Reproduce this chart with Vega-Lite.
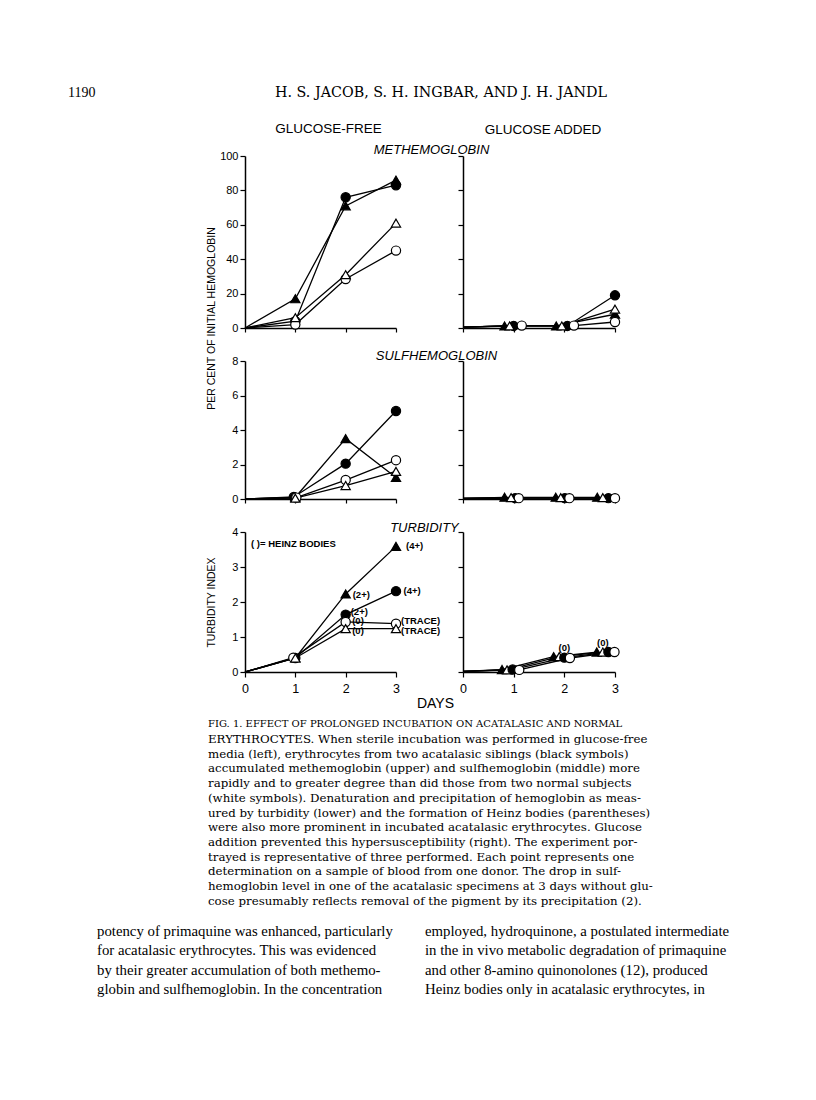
{
  "$schema": "https://vega.github.io/schema/vega-lite/v6.json",
  "padding": {"left": 68, "top": 65, "right": 0, "bottom": 0},
  "background": "white",
  "config": {
    "view": {"stroke": null},
    "axis": {"grid": false, "domainColor": "black", "domainWidth": 1.5, "tickColor": "black", "tickWidth": 1.2, "tickSize": 5, "labelFont": "Liberation Sans", "labelFontSize": 11, "labelColor": "black", "labelPadding": 2, "labelFlush": false, "labelOverlap": false, "titleFont": "Liberation Sans", "titleFontWeight": "normal", "titleColor": "black"},
    "title": {"font": "Liberation Sans", "fontWeight": "normal", "color": "black", "fontSize": 13.5},
    "text": {"color": "black"}
  },
  "datasets": {
    "series": [
      {"measure": "met", "medium": "free", "subject": "acatalasic 1", "day": 0, "value": 0},
      {"measure": "met", "medium": "free", "subject": "acatalasic 1", "day": 1, "value": 4},
      {"measure": "met", "medium": "free", "subject": "acatalasic 1", "day": 2, "value": 76},
      {"measure": "met", "medium": "free", "subject": "acatalasic 1", "day": 3, "value": 83},
      {"measure": "met", "medium": "free", "subject": "acatalasic 2", "day": 0, "value": 0},
      {"measure": "met", "medium": "free", "subject": "acatalasic 2", "day": 1, "value": 17},
      {"measure": "met", "medium": "free", "subject": "acatalasic 2", "day": 2, "value": 71},
      {"measure": "met", "medium": "free", "subject": "acatalasic 2", "day": 3, "value": 86},
      {"measure": "met", "medium": "free", "subject": "normal 1", "day": 0, "value": 0},
      {"measure": "met", "medium": "free", "subject": "normal 1", "day": 1, "value": 2},
      {"measure": "met", "medium": "free", "subject": "normal 1", "day": 2, "value": 28.5},
      {"measure": "met", "medium": "free", "subject": "normal 1", "day": 3, "value": 45},
      {"measure": "met", "medium": "free", "subject": "normal 2", "day": 0, "value": 0},
      {"measure": "met", "medium": "free", "subject": "normal 2", "day": 1, "value": 6},
      {"measure": "met", "medium": "free", "subject": "normal 2", "day": 2, "value": 31},
      {"measure": "met", "medium": "free", "subject": "normal 2", "day": 3, "value": 61},

      {"measure": "met", "medium": "added", "subject": "acatalasic 1", "day": 0, "value": 0.5},
      {"measure": "met", "medium": "added", "subject": "acatalasic 1", "day": 1.0, "value": 1.2},
      {"measure": "met", "medium": "added", "subject": "acatalasic 1", "day": 2.06, "value": 1.2},
      {"measure": "met", "medium": "added", "subject": "acatalasic 1", "day": 3, "value": 19},
      {"measure": "met", "medium": "added", "subject": "acatalasic 2", "day": 0, "value": 0.5},
      {"measure": "met", "medium": "added", "subject": "acatalasic 2", "day": 0.82, "value": 1.2},
      {"measure": "met", "medium": "added", "subject": "acatalasic 2", "day": 1.84, "value": 1.2},
      {"measure": "met", "medium": "added", "subject": "acatalasic 2", "day": 3, "value": 8},
      {"measure": "met", "medium": "added", "subject": "normal 1", "day": 0, "value": 0.5},
      {"measure": "met", "medium": "added", "subject": "normal 1", "day": 1.16, "value": 1.4},
      {"measure": "met", "medium": "added", "subject": "normal 1", "day": 2.19, "value": 1.4},
      {"measure": "met", "medium": "added", "subject": "normal 1", "day": 3, "value": 3.5},
      {"measure": "met", "medium": "added", "subject": "normal 2", "day": 0, "value": 0.5},
      {"measure": "met", "medium": "added", "subject": "normal 2", "day": 0.92, "value": 1.2},
      {"measure": "met", "medium": "added", "subject": "normal 2", "day": 1.95, "value": 1.2},
      {"measure": "met", "medium": "added", "subject": "normal 2", "day": 3, "value": 11},

      {"measure": "sulf", "medium": "free", "subject": "acatalasic 1", "day": 0, "value": 0},
      {"measure": "sulf", "medium": "free", "subject": "acatalasic 1", "day": 0.97, "value": 0.12},
      {"measure": "sulf", "medium": "free", "subject": "acatalasic 1", "day": 2, "value": 2.05},
      {"measure": "sulf", "medium": "free", "subject": "acatalasic 1", "day": 3, "value": 5.1},
      {"measure": "sulf", "medium": "free", "subject": "acatalasic 2", "day": 0, "value": 0},
      {"measure": "sulf", "medium": "free", "subject": "acatalasic 2", "day": 1, "value": 0.1},
      {"measure": "sulf", "medium": "free", "subject": "acatalasic 2", "day": 2, "value": 3.5},
      {"measure": "sulf", "medium": "free", "subject": "acatalasic 2", "day": 3, "value": 1.25},
      {"measure": "sulf", "medium": "free", "subject": "normal 1", "day": 0, "value": 0},
      {"measure": "sulf", "medium": "free", "subject": "normal 1", "day": 1.02, "value": 0.08},
      {"measure": "sulf", "medium": "free", "subject": "normal 1", "day": 2, "value": 1.1},
      {"measure": "sulf", "medium": "free", "subject": "normal 1", "day": 3, "value": 2.25},
      {"measure": "sulf", "medium": "free", "subject": "normal 2", "day": 0, "value": 0},
      {"measure": "sulf", "medium": "free", "subject": "normal 2", "day": 1, "value": 0.05},
      {"measure": "sulf", "medium": "free", "subject": "normal 2", "day": 2, "value": 0.78},
      {"measure": "sulf", "medium": "free", "subject": "normal 2", "day": 3, "value": 1.6},

      {"measure": "sulf", "medium": "added", "subject": "acatalasic 1", "day": 0, "value": 0.03},
      {"measure": "sulf", "medium": "added", "subject": "acatalasic 1", "day": 1.03, "value": 0.05},
      {"measure": "sulf", "medium": "added", "subject": "acatalasic 1", "day": 2.01, "value": 0.05},
      {"measure": "sulf", "medium": "added", "subject": "acatalasic 1", "day": 2.87, "value": 0.05},
      {"measure": "sulf", "medium": "added", "subject": "acatalasic 2", "day": 0, "value": 0.03},
      {"measure": "sulf", "medium": "added", "subject": "acatalasic 2", "day": 0.82, "value": 0.1},
      {"measure": "sulf", "medium": "added", "subject": "acatalasic 2", "day": 1.83, "value": 0.1},
      {"measure": "sulf", "medium": "added", "subject": "acatalasic 2", "day": 2.65, "value": 0.1},
      {"measure": "sulf", "medium": "added", "subject": "normal 1", "day": 0, "value": 0.03},
      {"measure": "sulf", "medium": "added", "subject": "normal 1", "day": 1.1, "value": 0.05},
      {"measure": "sulf", "medium": "added", "subject": "normal 1", "day": 2.1, "value": 0.05},
      {"measure": "sulf", "medium": "added", "subject": "normal 1", "day": 3.0, "value": 0.05},
      {"measure": "sulf", "medium": "added", "subject": "normal 2", "day": 0, "value": 0.03},
      {"measure": "sulf", "medium": "added", "subject": "normal 2", "day": 0.95, "value": 0.08},
      {"measure": "sulf", "medium": "added", "subject": "normal 2", "day": 1.93, "value": 0.08},
      {"measure": "sulf", "medium": "added", "subject": "normal 2", "day": 2.76, "value": 0.08},

      {"measure": "turb", "medium": "free", "subject": "acatalasic 1", "day": 0, "value": 0},
      {"measure": "turb", "medium": "free", "subject": "acatalasic 1", "day": 1, "value": 0.4},
      {"measure": "turb", "medium": "free", "subject": "acatalasic 1", "day": 2, "value": 1.64},
      {"measure": "turb", "medium": "free", "subject": "acatalasic 1", "day": 3, "value": 2.31},
      {"measure": "turb", "medium": "free", "subject": "acatalasic 2", "day": 0, "value": 0},
      {"measure": "turb", "medium": "free", "subject": "acatalasic 2", "day": 1, "value": 0.4},
      {"measure": "turb", "medium": "free", "subject": "acatalasic 2", "day": 2, "value": 2.23},
      {"measure": "turb", "medium": "free", "subject": "acatalasic 2", "day": 3, "value": 3.59},
      {"measure": "turb", "medium": "free", "subject": "normal 1", "day": 0, "value": 0},
      {"measure": "turb", "medium": "free", "subject": "normal 1", "day": 0.96, "value": 0.41},
      {"measure": "turb", "medium": "free", "subject": "normal 1", "day": 2, "value": 1.43},
      {"measure": "turb", "medium": "free", "subject": "normal 1", "day": 3, "value": 1.38},
      {"measure": "turb", "medium": "free", "subject": "normal 2", "day": 0, "value": 0},
      {"measure": "turb", "medium": "free", "subject": "normal 2", "day": 1, "value": 0.4},
      {"measure": "turb", "medium": "free", "subject": "normal 2", "day": 2, "value": 1.24},
      {"measure": "turb", "medium": "free", "subject": "normal 2", "day": 3, "value": 1.24},

      {"measure": "turb", "medium": "added", "subject": "acatalasic 2", "day": 0, "value": 0.02},
      {"measure": "turb", "medium": "added", "subject": "acatalasic 2", "day": 0.77, "value": 0.07},
      {"measure": "turb", "medium": "added", "subject": "acatalasic 2", "day": 1.79, "value": 0.44},
      {"measure": "turb", "medium": "added", "subject": "acatalasic 2", "day": 2.64, "value": 0.57},
      {"measure": "turb", "medium": "added", "subject": "normal 2", "day": 0, "value": 0.02},
      {"measure": "turb", "medium": "added", "subject": "normal 2", "day": 0.87, "value": 0.06},
      {"measure": "turb", "medium": "added", "subject": "normal 2", "day": 1.9, "value": 0.44},
      {"measure": "turb", "medium": "added", "subject": "normal 2", "day": 2.76, "value": 0.57},
      {"measure": "turb", "medium": "added", "subject": "acatalasic 1", "day": 0, "value": 0.02},
      {"measure": "turb", "medium": "added", "subject": "acatalasic 1", "day": 0.98, "value": 0.07},
      {"measure": "turb", "medium": "added", "subject": "acatalasic 1", "day": 2.0, "value": 0.41},
      {"measure": "turb", "medium": "added", "subject": "acatalasic 1", "day": 2.87, "value": 0.57},
      {"measure": "turb", "medium": "added", "subject": "normal 1", "day": 0, "value": 0.02},
      {"measure": "turb", "medium": "added", "subject": "normal 1", "day": 1.11, "value": 0.06},
      {"measure": "turb", "medium": "added", "subject": "normal 1", "day": 2.11, "value": 0.4},
      {"measure": "turb", "medium": "added", "subject": "normal 1", "day": 2.99, "value": 0.57}
    ],
    "notes": [
      {"medium": "free", "day": 0.12, "value": 3.66, "label": "(  )= HEINZ BODIES"},
      {"medium": "free", "day": 3.2, "value": 3.6, "label": "(4+)"},
      {"medium": "free", "day": 2.14, "value": 2.2, "label": "(2+)"},
      {"medium": "free", "day": 3.15, "value": 2.31, "label": "(4+)"},
      {"medium": "free", "day": 2.1, "value": 1.72, "label": "(2+)"},
      {"medium": "free", "day": 2.13, "value": 1.45, "label": "(0)"},
      {"medium": "free", "day": 3.1, "value": 1.45, "label": "(TRACE)"},
      {"medium": "free", "day": 2.13, "value": 1.18, "label": "(0)"},
      {"medium": "free", "day": 3.1, "value": 1.18, "label": "(TRACE)"},
      {"medium": "added", "day": 2.0, "value": 0.69, "label": "(0)"},
      {"medium": "added", "day": 2.76, "value": 0.82, "label": "(0)"}
    ],
    "header": [
      {"part": "page", "text": "1190"},
      {"part": "head", "text": "H. S. JACOB, S. H. INGBAR, AND J. H. JANDL"}
    ],
    "caption": [
      {"line": 1, "text": "FIG. 1. EFFECT OF PROLONGED INCUBATION ON ACATALASIC AND NORMAL"},
      {"line": 2, "text": "ERYTHROCYTES. When sterile incubation was performed in glucose-free"},
      {"line": 3, "text": "media (left), erythrocytes from two acatalasic siblings (black symbols)"},
      {"line": 4, "text": "accumulated methemoglobin (upper) and sulfhemoglobin (middle) more"},
      {"line": 5, "text": "rapidly and to greater degree than did those from two normal subjects"},
      {"line": 6, "text": "(white symbols).  Denaturation and precipitation of hemoglobin as meas-"},
      {"line": 7, "text": "ured by turbidity (lower) and the formation of Heinz bodies (parentheses)"},
      {"line": 8, "text": "were also more prominent in incubated acatalasic erythrocytes.  Glucose"},
      {"line": 9, "text": "addition prevented this hypersusceptibility (right).  The experiment por-"},
      {"line": 10, "text": "trayed is representative of three performed.  Each point represents one"},
      {"line": 11, "text": "determination on a sample of blood from one donor.  The drop in sulf-"},
      {"line": 12, "text": "hemoglobin level in one of the acatalasic specimens at 3 days without glu-"},
      {"line": 13, "text": "cose presumably reflects removal of the pigment by its precipitation (2)."}
    ],
    "body": [
      {"col": "left", "line": 1, "text": "potency of primaquine was enhanced, particularly"},
      {"col": "left", "line": 2, "text": "for acatalasic erythrocytes.  This was evidenced"},
      {"col": "left", "line": 3, "text": "by their greater accumulation of both methemo-"},
      {"col": "left", "line": 4, "text": "globin and sulfhemoglobin.  In the concentration"},
      {"col": "right", "line": 1, "text": "employed, hydroquinone, a postulated intermediate"},
      {"col": "right", "line": 2, "text": "in the in vivo metabolic degradation of primaquine"},
      {"col": "right", "line": 3, "text": "and other 8-amino quinonolones (12), produced"},
      {"col": "right", "line": 4, "text": "Heinz bodies only in acatalasic erythrocytes, in"}
    ]
  },
  "vconcat": [
    {
      "width": 731, "height": 56,
      "data": {"name": "header"},
      "encoding": {
        "x": {"field": "part", "type": "nominal", "sort": ["page", "head"], "scale": {"type": "point", "range": [0, 207], "padding": 0}, "axis": null},
        "text": {"field": "text"}
      },
      "layer": [
        {"transform": [{"filter": "datum.part == 'page'"}], "mark": {"type": "text", "align": "left", "baseline": "middle", "font": "Liberation Serif", "fontSize": 14}},
        {"transform": [{"filter": "datum.part == 'head'"}], "mark": {"type": "text", "align": "left", "baseline": "middle", "font": "DejaVu Serif", "fontSize": 14.3}}
      ]
    },
    {
      "columns": 2,
      "bounds": "flush",
      "align": "each",
      "spacing": {"row": 33, "column": 67},
      "resolve": {"scale": {"x": "independent", "y": "independent"}},
      "concat": [
        {
          "width": 151, "height": 172,
          "title": {"text": "GLUCOSE-FREE", "frame": "group", "anchor": "middle", "dx": 8, "offset": 8, "baseline": "middle"},
          "data": {"name": "series"},
          "transform": [{"filter": "datum.measure == 'met' && datum.medium == 'free'"}],
          "encoding": {
            "x": {"field": "day", "type": "quantitative", "scale": {"domain": [0, 3], "nice": false}, "axis": {"values": [0, 1, 2, 3], "labels": false, "title": null, "tickSize": 4}},
            "y": {"field": "value", "type": "quantitative", "scale": {"domain": [0, 100], "nice": false}, "axis": {"values": [0, 20, 40, 60, 80, 100], "title": "PER CENT OF INITIAL HEMOGLOBIN", "titleFontSize": 10.5, "titleX": -33, "titleY": 162, "titleAlign": "center", "titleBaseline": "middle"}}
          },
          "layer": [
            {"mark": {"type": "line", "color": "black", "strokeWidth": 1.3}, "encoding": {"detail": {"field": "subject"}}},
            {"transform": [{"filter": "datum.day > 0"}], "mark": {"type": "point", "filled": true, "stroke": "black", "strokeWidth": 1.2, "opacity": 1, "size": 85},
             "encoding": {
               "shape": {"field": "subject", "scale": {"domain": ["acatalasic 1", "acatalasic 2", "normal 1", "normal 2"], "range": ["circle", "triangle-up", "circle", "triangle-up"]}, "legend": null},
               "fill": {"field": "subject", "scale": {"domain": ["acatalasic 1", "acatalasic 2", "normal 1", "normal 2"], "range": ["black", "black", "white", "white"]}, "legend": null}
             }}
          ]
        },
        {
          "width": 152, "height": 172,
          "title": {"text": "GLUCOSE ADDED", "frame": "group", "anchor": "middle", "dx": 4, "offset": 0, "baseline": "middle"},
          "data": {"name": "series"},
          "transform": [{"filter": "datum.measure == 'met' && datum.medium == 'added'"}],
          "encoding": {
            "x": {"field": "day", "type": "quantitative", "scale": {"domain": [0, 3], "nice": false}, "axis": {"values": [0, 1, 2, 3], "labels": false, "title": null, "tickSize": 4}},
            "y": {"field": "value", "type": "quantitative", "scale": {"domain": [0, 100], "nice": false}, "axis": {"values": [0, 20, 40, 60, 80, 100], "labels": false, "title": "METHEMOGLOBIN", "titleAngle": 0, "titleX": -32, "titleY": -7, "titleAlign": "center", "titleBaseline": "middle", "titleFontStyle": "italic", "titleFontSize": 13}}
          },
          "layer": [
            {"mark": {"type": "line", "color": "black", "strokeWidth": 1.3}, "encoding": {"detail": {"field": "subject"}}},
            {"transform": [{"filter": "datum.day > 0"}], "mark": {"type": "point", "filled": true, "stroke": "black", "strokeWidth": 1.2, "opacity": 1, "size": 85},
             "encoding": {
               "shape": {"field": "subject", "scale": {"domain": ["acatalasic 1", "acatalasic 2", "normal 1", "normal 2"], "range": ["circle", "triangle-up", "circle", "triangle-up"]}, "legend": null},
               "fill": {"field": "subject", "scale": {"domain": ["acatalasic 1", "acatalasic 2", "normal 1", "normal 2"], "range": ["black", "black", "white", "white"]}, "legend": null}
             }}
          ]
        },
        {
          "width": 151, "height": 138,
          "data": {"name": "series"},
          "transform": [{"filter": "datum.measure == 'sulf' && datum.medium == 'free'"}],
          "encoding": {
            "x": {"field": "day", "type": "quantitative", "scale": {"domain": [0, 3], "nice": false}, "axis": {"values": [0, 1, 2, 3], "labels": false, "title": null, "tickSize": 4}},
            "y": {"field": "value", "type": "quantitative", "scale": {"domain": [0, 8], "nice": false}, "axis": {"values": [0, 2, 4, 6, 8], "title": null}}
          },
          "layer": [
            {"mark": {"type": "line", "color": "black", "strokeWidth": 1.3}, "encoding": {"detail": {"field": "subject"}}},
            {"transform": [{"filter": "datum.day > 0"}], "mark": {"type": "point", "filled": true, "stroke": "black", "strokeWidth": 1.2, "opacity": 1, "size": 85},
             "encoding": {
               "shape": {"field": "subject", "scale": {"domain": ["acatalasic 1", "acatalasic 2", "normal 1", "normal 2"], "range": ["circle", "triangle-up", "circle", "triangle-up"]}, "legend": null},
               "fill": {"field": "subject", "scale": {"domain": ["acatalasic 1", "acatalasic 2", "normal 1", "normal 2"], "range": ["black", "black", "white", "white"]}, "legend": null}
             }}
          ]
        },
        {
          "width": 152, "height": 138,
          "data": {"name": "series"},
          "transform": [{"filter": "datum.measure == 'sulf' && datum.medium == 'added'"}],
          "encoding": {
            "x": {"field": "day", "type": "quantitative", "scale": {"domain": [0, 3], "nice": false}, "axis": {"values": [0, 1, 2, 3], "labels": false, "title": null, "tickSize": 4}},
            "y": {"field": "value", "type": "quantitative", "scale": {"domain": [0, 8], "nice": false}, "axis": {"values": [0, 2, 4, 6, 8], "labels": false, "title": "SULFHEMOGLOBIN", "titleAngle": 0, "titleX": -27, "titleY": -6, "titleAlign": "center", "titleBaseline": "middle", "titleFontStyle": "italic", "titleFontSize": 13}}
          },
          "layer": [
            {"mark": {"type": "line", "color": "black", "strokeWidth": 1.3}, "encoding": {"detail": {"field": "subject"}}},
            {"transform": [{"filter": "datum.day > 0"}], "mark": {"type": "point", "filled": true, "stroke": "black", "strokeWidth": 1.2, "opacity": 1, "size": 85},
             "encoding": {
               "shape": {"field": "subject", "scale": {"domain": ["acatalasic 1", "acatalasic 2", "normal 1", "normal 2"], "range": ["circle", "triangle-up", "circle", "triangle-up"]}, "legend": null},
               "fill": {"field": "subject", "scale": {"domain": ["acatalasic 1", "acatalasic 2", "normal 1", "normal 2"], "range": ["black", "black", "white", "white"]}, "legend": null}
             }}
          ]
        },
        {
          "width": 151, "height": 140,
          "encoding": {
            "x": {"field": "day", "type": "quantitative", "scale": {"domain": [0, 3], "nice": false}, "axis": {"values": [0, 1, 2, 3], "labelFontSize": 12.5, "labelPadding": 5, "title": "DAYS", "titleFontSize": 14, "titleX": 190, "titleY": 31, "titleAlign": "center", "titleBaseline": "middle"}},
            "y": {"field": "value", "type": "quantitative", "scale": {"domain": [0, 4], "nice": false}, "axis": {"values": [0, 1, 2, 3, 4], "title": "TURBIDITY INDEX", "titleFontSize": 10.5, "titleX": -33, "titleY": 70, "titleAlign": "center", "titleBaseline": "middle"}}
          },
          "layer": [
            {"data": {"name": "series"}, "transform": [{"filter": "datum.measure == 'turb' && datum.medium == 'free'"}], "mark": {"type": "line", "color": "black", "strokeWidth": 1.3}, "encoding": {"detail": {"field": "subject"}}},
            {"data": {"name": "series"}, "transform": [{"filter": "datum.measure == 'turb' && datum.medium == 'free' && datum.day > 0"}], "mark": {"type": "point", "filled": true, "stroke": "black", "strokeWidth": 1.2, "opacity": 1, "size": 85},
             "encoding": {
               "shape": {"field": "subject", "scale": {"domain": ["acatalasic 1", "acatalasic 2", "normal 1", "normal 2"], "range": ["circle", "triangle-up", "circle", "triangle-up"]}, "legend": null},
               "fill": {"field": "subject", "scale": {"domain": ["acatalasic 1", "acatalasic 2", "normal 1", "normal 2"], "range": ["black", "black", "white", "white"]}, "legend": null}
             }},
            {"data": {"name": "notes"}, "transform": [{"filter": "datum.medium == 'free'"}], "mark": {"type": "text", "align": "left", "baseline": "middle", "font": "Liberation Sans", "fontSize": 9.5, "fontWeight": "bold"}, "encoding": {"text": {"field": "label"}}}
          ]
        },
        {
          "width": 152, "height": 140,
          "encoding": {
            "x": {"field": "day", "type": "quantitative", "scale": {"domain": [0, 3], "nice": false}, "axis": {"values": [0, 1, 2, 3], "labelFontSize": 12.5, "labelPadding": 5, "title": null}},
            "y": {"field": "value", "type": "quantitative", "scale": {"domain": [0, 4], "nice": false}, "axis": {"values": [0, 1, 2, 3, 4], "labels": false, "title": "TURBIDITY", "titleAngle": 0, "titleX": -39, "titleY": -5, "titleAlign": "center", "titleBaseline": "middle", "titleFontStyle": "italic", "titleFontSize": 13}}
          },
          "layer": [
            {"data": {"name": "series"}, "transform": [{"filter": "datum.measure == 'turb' && datum.medium == 'added'"}], "mark": {"type": "line", "color": "black", "strokeWidth": 1.3}, "encoding": {"detail": {"field": "subject"}}},
            {"data": {"name": "series"}, "transform": [{"filter": "datum.measure == 'turb' && datum.medium == 'added' && datum.day > 0"}], "mark": {"type": "point", "filled": true, "stroke": "black", "strokeWidth": 1.2, "opacity": 1, "size": 85},
             "encoding": {
               "shape": {"field": "subject", "scale": {"domain": ["acatalasic 1", "acatalasic 2", "normal 1", "normal 2"], "range": ["circle", "triangle-up", "circle", "triangle-up"]}, "legend": null},
               "fill": {"field": "subject", "scale": {"domain": ["acatalasic 1", "acatalasic 2", "normal 1", "normal 2"], "range": ["black", "black", "white", "white"]}, "legend": null}
             }},
            {"data": {"name": "notes"}, "transform": [{"filter": "datum.medium == 'added'"}], "mark": {"type": "text", "align": "center", "baseline": "middle", "font": "Liberation Sans", "fontSize": 9.5, "fontWeight": "bold"}, "encoding": {"text": {"field": "label"}}}
          ]
        }
      ]
    },
    {
      "width": 451, "height": 205,
      "data": {"name": "caption"},
      "encoding": {
        "x": {"datum": 0, "type": "quantitative", "scale": {"domain": [0, 1]}, "axis": null},
        "y": {"field": "line", "type": "ordinal", "scale": {"type": "point", "padding": 0.95}, "axis": null},
        "text": {"field": "text"}
      },
      "layer": [
        {"transform": [{"filter": "datum.line > 1"}], "mark": {"type": "text", "align": "left", "baseline": "middle", "font": "DejaVu Serif", "fontSize": 11.8}},
        {"transform": [{"filter": "datum.line == 1"}], "mark": {"type": "text", "align": "left", "baseline": "middle", "font": "DejaVu Serif", "fontSize": 10}}
      ]
    },
    {
      "width": 731, "height": 92,
      "data": {"name": "body"},
      "mark": {"type": "text", "align": "left", "baseline": "middle", "font": "Liberation Serif", "fontSize": 14.8},
      "encoding": {
        "x": {"field": "col", "type": "nominal", "scale": {"type": "point", "range": [29, 357], "padding": 0}, "axis": null},
        "y": {"field": "line", "type": "ordinal", "scale": {"type": "point", "padding": 0.92}, "axis": null},
        "text": {"field": "text"}
      }
    }
  ],
  "spacing": 0,
  "center": true,
  "resolve": {"scale": {"x": "independent", "y": "independent"}}
}
